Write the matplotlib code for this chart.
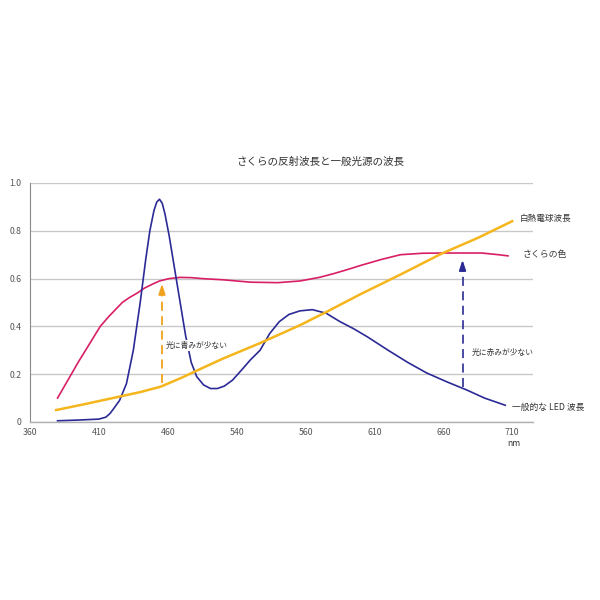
import matplotlib

matplotlib.use("Agg")
import matplotlib.pyplot as plt

plt.rcParams["font.family"] = ["Noto Sans CJK JP", "DejaVu Sans"]

# wavelength ticks (evenly spaced positions, labels as printed on the chart)
tick_pos = [360, 410, 460, 510, 560, 610, 660, 710]
tick_labels = ["360", "410", "460", "540", "560", "610", "660", "710"]
ytick_pos = [0, 0.2, 0.4, 0.6, 0.8, 1.0]
ytick_labels = ["0", "0.2", "0.4", "0.6", "0.8", "1.0"]

# incandescent bulb
bulb_x = [379, 400, 420, 440, 455, 470, 483, 500, 527, 556, 575, 600, 630, 659, 685, 710]
bulb_y = [0.05, 0.075, 0.10, 0.125, 0.148, 0.185, 0.22, 0.265, 0.33, 0.405, 0.46, 0.535, 0.62, 0.705, 0.77, 0.84]

# sakura reflectance
sakura_x = [380, 395, 411, 417, 422, 427, 432, 438, 443, 449, 454, 461, 469, 477, 485, 500, 520, 540, 556, 570,
            580, 590, 600, 615, 629, 645, 660, 675, 688, 700, 707]
sakura_y = [0.10, 0.25, 0.40, 0.44, 0.47, 0.50, 0.52, 0.54, 0.56, 0.577, 0.59, 0.60, 0.605, 0.604, 0.60, 0.595,
            0.585, 0.583, 0.59, 0.605, 0.62, 0.637, 0.655, 0.68, 0.70, 0.706, 0.707, 0.707, 0.707, 0.70, 0.695]

# typical LED
led_x = [380, 395, 410, 415, 418, 420, 425, 430, 435, 440, 444, 447, 450, 452, 454, 456, 458, 461, 465, 469, 473,
         477, 481, 486, 491, 496, 501, 507, 514, 520, 527, 534, 541, 548, 556, 565, 575, 585, 595, 605, 620, 634,
         648, 663, 677, 690, 705]
led_y = [0.005, 0.008, 0.012, 0.02, 0.035, 0.05, 0.09, 0.16, 0.30, 0.50, 0.68, 0.80, 0.885, 0.92, 0.932, 0.915,
         0.87, 0.78, 0.64, 0.50, 0.36, 0.25, 0.19, 0.155, 0.14, 0.14, 0.15, 0.175, 0.22, 0.26, 0.30, 0.37, 0.42,
         0.45, 0.465, 0.47, 0.455, 0.42, 0.39, 0.356, 0.30, 0.25, 0.205, 0.167, 0.134, 0.10, 0.07]

ORANGE = "#f5b51c"
PINK = "#d81f66"
NAVY = "#2b2a96"
GREY = "#555555"

fig = plt.figure(figsize=(6, 6), dpi=100)
ax = fig.add_axes([0.05, 0.2967, 0.838, 0.3983])

ax.plot(sakura_x, sakura_y, color=PINK, linewidth=1.2)
ax.plot(led_x, led_y, color=NAVY, linewidth=1.2)
ax.plot(bulb_x, bulb_y, color=ORANGE, linewidth=1.8)

# dashed arrows
ax.plot([455.8, 455.8], [0.163, 0.54], color="#f0a21e", linestyle=(0, (5, 3)), linewidth=1.3)
ax.annotate("", xy=(455.8, 0.59), xytext=(455.8, 0.535),
            arrowprops=dict(arrowstyle="-|>,head_length=0.6,head_width=0.2", color="#f0a21e", lw=1.3))
ax.plot([674, 674], [0.146, 0.64], color="#3d3b9c", linestyle=(0, (5, 3)), linewidth=1.3)
ax.annotate("", xy=(674, 0.69), xytext=(674, 0.635),
            arrowprops=dict(arrowstyle="-|>,head_length=0.6,head_width=0.2", color=NAVY, lw=1.3))

box = dict(facecolor="white", edgecolor="none", pad=1)
ax.text(458.7, 0.32, "光に青みが少ない", fontsize=5.6, color="#333333", va="center", ha="left", bbox=box)
ax.text(680.7, 0.29, "光に赤みが少ない", fontsize=5.6, color="#333333", va="center", ha="left", bbox=box)

ax.text(715.6, 0.853, "白熱電球波長", fontsize=6.2, color="#333333", va="center", ha="left", clip_on=False)
ax.text(717.8, 0.70, "さくらの色", fontsize=6.4, color="#333333", va="center", ha="left", clip_on=False)
ax.text(709.8, 0.063, "一般的な LED 波長", fontsize=6.3, color="#333333", va="center", ha="left", clip_on=False)
ax.text(711, -0.088, "nm", fontsize=6.2, color="#333333", va="center", ha="center", clip_on=False)

fig.text(0.533, 0.73, "さくらの反射波長と一般光源の波長", fontsize=7.6, color="#333333", ha="center", va="center")

ax.set_xlim(360, 725)
ax.set_ylim(0, 1.0)
ax.set_xticks(tick_pos)
ax.set_xticklabels(tick_labels)
ax.set_yticks(ytick_pos)
ax.set_yticklabels(ytick_labels)
ax.tick_params(axis="both", length=0, labelsize=6.3, colors=GREY)
ax.tick_params(axis="x", pad=4)
ax.tick_params(axis="y", pad=6)
ax.grid(axis="y", color="#c8c8c8", linewidth=1.0)
ax.set_axisbelow(True)
for side in ["top", "right"]:
    ax.spines[side].set_visible(False)
ax.spines["left"].set_color("#8a8a8a")
ax.spines["left"].set_linewidth(0.8)
ax.spines["bottom"].set_color("#b0b0b0")
ax.spines["bottom"].set_linewidth(1.0)

fig.savefig("out.png", dpi=100)
